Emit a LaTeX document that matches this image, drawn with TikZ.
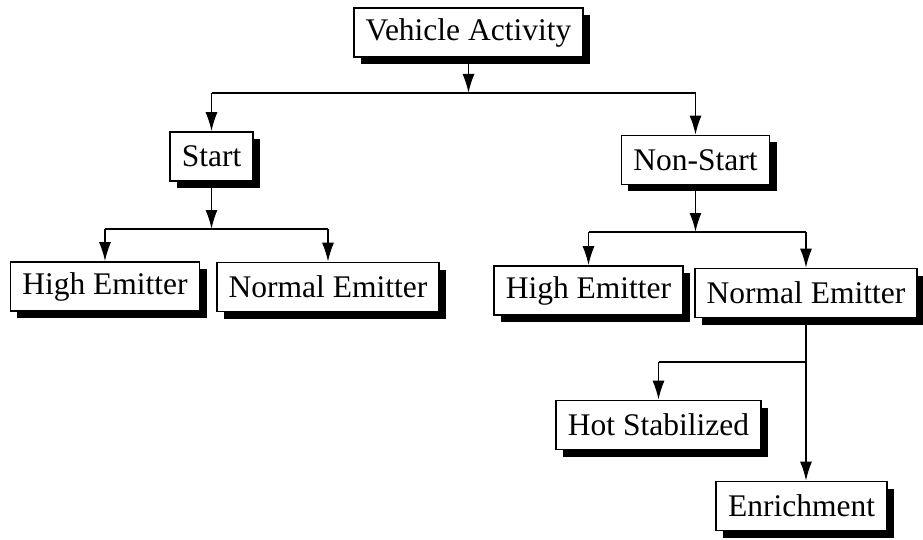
\documentclass[tikz,border=0pt]{standalone}
\usepackage{fontspec}
\setmainfont{Liberation Serif}
\usetikzlibrary{arrows.meta,shadows}

\begin{document}
\begin{tikzpicture}[x=1pt,y=-1pt]
	\tikzset{boite/.style={draw=black, fill=white, line width=1.6pt, font=\fontsize{31.5}{36}\selectfont, inner xsep=12pt, minimum height=49pt, general shadow={fill=black, shadow xshift=7pt, shadow yshift=-7pt}}, fleche/.style={-{Latex[length=19pt,width=12pt]}, line width=1.6pt}, trait/.style={line width=1.6pt}};

	\useasboundingbox (0,0) rectangle (923,540);

	\node[boite] (va)       at (468.5,  32.5) {Vehicle Activity};
	\node[boite] (start)    at (211.5, 156.5) {Start};
	\node[boite] (nonstart) at (695.5, 160  ) {Non-Start};
	\node[boite] (he1)      at (105  , 286.5) {High Emitter};
	\node[boite] (ne1)      at (328  , 287  ) {Normal Emitter};
	\node[boite] (he2)      at (588.5, 290.5) {High Emitter};
	\node[boite] (ne2)      at (806  , 293  ) {Normal Emitter};
	\node[boite] (hs)       at (658.5, 425  ) {Hot Stabilized};
	\node[boite] (en)       at (801.5, 506  ) {Enrichment};

	\coordinate (b1) at (0,  93);
	\coordinate (b2) at (0, 229);
	\coordinate (b3) at (0, 232);
	\coordinate (b4) at (0, 362);

	% niveau 1
	\draw[fleche] (va.south) -- (va.south |- b1);
	\draw[trait]  (start.north |- b1) -- (nonstart.north |- b1);
	\draw[fleche] (start.north |- b1) -- (start.north);
	\draw[fleche] (nonstart.north |- b1) -- (nonstart.north);

	% niveau 2
	\draw[fleche] (start.south) -- (start.south |- b2);
	\draw[trait]  (he1.north |- b2) -- (ne1.north |- b2);
	\draw[fleche] (he1.north |- b2) -- (he1.north);
	\draw[fleche] (ne1.north |- b2) -- (ne1.north);

	\draw[fleche] (nonstart.south) -- (nonstart.south |- b3);
	\draw[trait]  (he2.north |- b3) -- (ne2.north |- b3);
	\draw[fleche] (he2.north |- b3) -- (he2.north);
	\draw[fleche] (ne2.north |- b3) -- (ne2.north);

	% niveau 3
	\draw[fleche] (ne2.south) -- (ne2.south |- en.north);
	\draw[trait]  (ne2.south |- b4) -- (hs.north |- b4);
	\draw[fleche] (hs.north |- b4) -- (hs.north);

\end{tikzpicture}
\end{document}
